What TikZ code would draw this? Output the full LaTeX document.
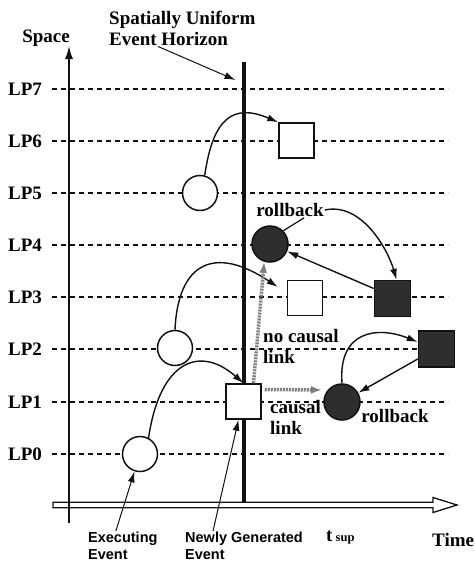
\documentclass[tikz,border=0pt]{standalone}
\usepackage{fontspec}
\setmainfont{Liberation Serif}
\setsansfont{Liberation Sans}
\usetikzlibrary{arrows.meta,calc}
\definecolor{hzInk}{HTML}{111111}
\definecolor{hzDark}{HTML}{2E2E2E}
\definecolor{hzGrey}{HTML}{7E7E7E}
\tikzset{
  evcirc/.style  = {circle, draw=hzInk, line width=1.5pt, fill=white,
                    minimum size=35pt, inner sep=0pt},
  evbox/.style   = {rectangle, draw=hzInk, line width=1.5pt, fill=white,
                    minimum size=35pt, inner sep=0pt},
  rbcirc/.style  = {evcirc, fill=hzDark, minimum size=36pt},
  rbbox/.style   = {evbox, fill=hzDark, minimum size=36pt},
  lpline/.style  = {draw=hzInk, line width=1.1pt, dash pattern=on 5pt off 4pt},
  link/.style    = {-{Latex[length=11pt,width=7pt]}, line width=1.4pt, draw=hzInk},
  pointer/.style = {line width=1.2pt, draw=hzInk},
  causal/.style  = {-{Latex[length=11pt,width=8pt]}, line width=3.5pt, draw=hzGrey,
                    dash pattern=on 2pt off 1pt},
  tag/.style     = {font=\fontsize{19}{21}\selectfont\bfseries, inner sep=1pt, align=left},
  note/.style    = {font=\sffamily\fontsize{14.5}{17}\selectfont\bfseries, inner sep=1pt,
                    align=left},
}

\begin{document}
\begin{tikzpicture}[x=1pt, y=-1pt]
  \useasboundingbox (0,0) rectangle (474,562);

  % process lines
  \foreach \i/\y in {0/454,1/402,2/349,3/297,4/245,5/193,6/141,7/89}{
    \node[tag, anchor=west] (lp\i) at (7,\y) {LP\i};
    \draw[lpline] (52,\y) -- (448,\y);
  }

  % axes and horizon
  \draw[line width=1.3pt, draw=hzInk, fill=white]
    (53,502.3) -- (433,502.3) -- (433,497.5) -- (457,505) -- (433,512.5)
    -- (433,507.7) -- (53,507.7) -- cycle;
  \coordinate (sp0) at (69,523);
  \coordinate (sp1) at (69,46);
  \draw[-{Latex[length=13pt,width=8pt]}, line width=1.6pt, draw=hzInk] (sp0) -- (sp1);
  \coordinate (hzt) at (243.5,62);
  \coordinate (hzb) at (243.5,502);
  \draw[line width=4pt, draw=hzInk] (hzt) -- (hzb);

  \node[tag] (space) at (46,38) {Space};
  \node[tag, anchor=west] (hz) at (108,28) {Spatially Uniform\\Event Horizon};
  \node[tag, anchor=west] (time) at (431,540) {Time};
  \node[tag, anchor=west] (tsup) at (325,537) {t\,{\fontsize{12.5}{12}\selectfont sup}};

  % events
  \node[evcirc] (ev0) at (140,454) {};
  \node[evcirc] (ev2) at (175,348) {};
  \node[evcirc] (ev5) at (200,193) {};
  \node[evbox]  (sq1) at (243.5,401.5) {};
  \node[evbox]  (sq3) at (305,298) {};
  \node[evbox]  (sq6) at (296.5,140.5) {};
  \node[rbcirc] (dc4) at (270,244) {};
  \node[rbcirc] (dc1) at (342,402) {};
  \node[rbbox]  (dsq3) at (392.5,298.5) {};
  \node[rbbox]  (dsq2) at (436.5,349) {};

  \node[tag] (rb1) at (290,210) {rollback};
  \node[tag] (rb2) at (395,416) {rollback};
  \node[tag, anchor=west] (nolink) at (262,346) {no causal\\link};
  \node[tag, anchor=west] (cslink) at (269,417) {causal\\link};
  \node[note, anchor=west] (exe) at (87,546) {Executing\\Event};
  \node[note, anchor=west] (new) at (184,546) {Newly Generated\\Event};

  % messages
  \draw[link] (ev0.62) .. controls (160,360) and (200,345) .. (sq1.north);
  \draw[link] (ev2.north) .. controls (178,262) and (215,245) .. ([xshift=-9pt,yshift=11pt]sq3.west);
  \draw[link] (ev5.75) .. controls (213,118) and (233,103) .. (sq6.north west);
  \draw[link] (dc1.north) .. controls (338,330) and (378,326) .. ([yshift=7pt]dsq2.west);

  % rollbacks
  \draw[link] (rb1.east) .. controls (362,202) and (388,250) .. ([xshift=4pt]dsq3.north);
  \draw[pointer] ([xshift=14pt]rb1.south) -- (dc4.north east);
  \draw[link] ([yshift=10pt]dsq3.west) -- (dc4);
  \draw[link] ([yshift=-10pt]dsq2.west) -- (dc1);

  % causality
  \coordinate (cz) at (322,390);
  \draw[causal] ([xshift=10pt]sq1.north) -- (dc4.252);
  \draw[causal] ([xshift=3pt,yshift=12pt]sq1.east) -- (cz);

  % callouts
  \draw[link, line width=1pt] ([xshift=50pt]hz.south west) -- ([xshift=-8pt,yshift=-18pt]hzt);
  \draw[link, line width=1pt] ([xshift=-7pt]exe.north) -- (ev0);
  \draw[link, line width=1pt] ([xshift=-31pt]new.north) -- ([xshift=-5pt]sq1.south);
\end{tikzpicture}
\end{document}
